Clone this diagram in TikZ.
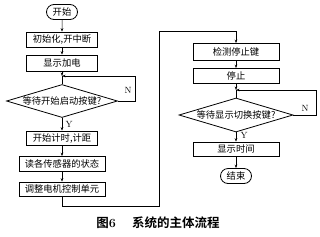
\documentclass[tikz,border=0pt]{standalone}
\usepackage{fontspec}
\newfontfamily\cjk{Noto Sans CJK SC}[BoldFont={Noto Sans CJK SC Bold}]
\usepackage{tikz}
\usetikzlibrary{arrows.meta,shapes.misc,shapes.geometric}

\tikzset{
  stepbox/.style={draw, line width=0.8pt, minimum height=15pt, inner sep=1pt, font=\cjk\fontsize{9.3}{10}\selectfont},
  termbox/.style={draw, rounded rectangle, line width=0.8pt, minimum width=33pt, minimum height=15pt, inner sep=1pt, font=\cjk\fontsize{9.3}{10}\selectfont},
  waitbox/.style={draw, diamond, line width=0.8pt, shape aspect=3.4, inner sep=0pt, font=\cjk\fontsize{9.3}{10}\selectfont},
  flow/.style={line width=0.5pt, -{Stealth[length=3.5pt,width=2.6pt]}},
  link/.style={line width=0.5pt},
  yn/.style={font=\fontsize{9}{10}\selectfont}
}

\begin{document}
\begin{tikzpicture}[x=1pt,y=-1pt]
  \useasboundingbox (0,0) rectangle (320,236);
  % left column: start-up
  \node[termbox] (start) at (62,12) {开始};
  \node[stepbox, minimum width=71pt] (init) at (62,39.5) {初始化,开中断};
  \node[stepbox, minimum width=71pt, minimum height=16pt] (power) at (62,63) {显示加电};
  \coordinate (j1) at (62,76);
  \node[waitbox, minimum width=111pt, minimum height=33pt] (wait1) at (62,101) {等待开始启动按键?};
  \node[stepbox, minimum width=71pt, minimum height=14pt] (timer) at (62,138) {开始计时,计距};
  \node[stepbox, minimum width=86pt] (sensors) at (62,164) {读各传感器的状态};
  \node[stepbox, minimum width=86pt, minimum height=14pt] (adjust) at (62,189) {调整电机控制单元};
  \coordinate (b1) at (62,206);
  \coordinate (t1) at (159,31);
  % right column: stop and display
  \node[stepbox, minimum width=86pt, minimum height=17pt] (checkstop) at (236,52) {检测停止键};
  \node[stepbox, minimum width=86pt] (halt) at (236,76) {停止};
  \coordinate (j2) at (236,90);
  \node[waitbox, minimum width=114pt, minimum height=34pt] (wait2) at (236,115) {等待显示切换按键?};
  \node[stepbox, minimum width=86pt, minimum height=14pt] (showtime) at (236,149) {显示时间};
  \node[termbox] (finish) at (236,176) {结束};

  \draw[flow] (start) -- (init);
  \draw[flow] (init) -- (power);
  \draw[flow] (power) -- (j1);
  \draw[link] (j1) -- (wait1);
  \draw[flow] (wait1.east) -- ++(17,0) |- (j1);
  \node[yn] (n1) at (128,90) {N};
  \draw[flow] (wait1) -- (timer);
  \node[yn] (y1) at (69,124) {Y};
  \draw[flow] (timer) -- (sensors);
  \draw[flow] (sensors) -- (adjust);
  \draw[link] (adjust) -- (b1) -| (t1);
  \draw[flow] (t1) -| (checkstop);

  \draw[flow] (checkstop) -- (halt);
  \draw[flow] (halt) -- (j2);
  \draw[link] (j2) -- (wait2);
  \draw[flow] (wait2.east) -- ++(23,0) |- (j2);
  \node[yn] (n2) at (305,108) {N};
  \draw[flow] (wait2) -- (showtime);
  \node[yn] (y2) at (244,135) {Y};
  \draw[flow] (showtime) -- (finish);

  \node[font=\cjk\bfseries\fontsize{12.5}{14}\selectfont] (caption) at (158,223) {图{\rmfamily\bfseries 6}\hspace{1.3em}系统的主体流程};
\end{tikzpicture}
\end{document}
